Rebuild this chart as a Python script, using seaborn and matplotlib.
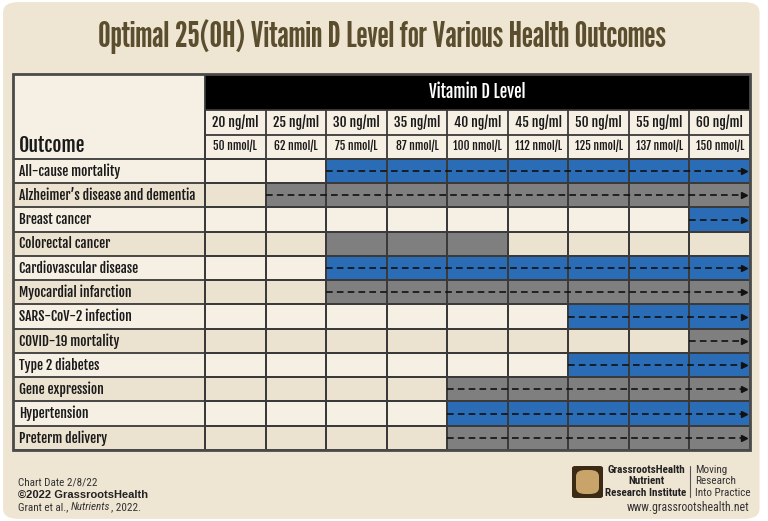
import numpy as np
import pandas as pd
import matplotlib
matplotlib.use("Agg")
import matplotlib.pyplot as plt
from matplotlib.colors import ListedColormap
from matplotlib.patches import Rectangle, FancyBboxPatch
import seaborn as sns

# ---------------- data ----------------
levels_ng = ["20 ng/ml", "25 ng/ml", "30 ng/ml", "35 ng/ml", "40 ng/ml",
             "45 ng/ml", "50 ng/ml", "55 ng/ml", "60 ng/ml"]
levels_nmol = ["50 nmol/L", "62 nmol/L", "75 nmol/L", "87 nmol/L", "100 nmol/L",
               "112 nmol/L", "125 nmol/L", "137 nmol/L", "150 nmol/L"]
outcomes = ["All-cause mortality", "Alzheimer\u2019s disease and dementia", "Breast cancer",
            "Colorectal cancer", "Cardiovascular disease", "Myocardial infarction",
            "SARS-CoV-2 infection", "COVID-19 mortality", "Type 2 diabetes",
            "Gene expression", "Hypertension", "Preterm delivery"]
band_start = [2, 1, 8, 2, 2, 2, 6, 8, 6, 4, 4, 4]   # first optimal level column
band_end = [9, 9, 9, 5, 9, 9, 9, 9, 9, 9, 9, 9]     # exclusive end column
band_kind = ["blue", "gray", "blue", "gray", "blue", "gray",
             "blue", "gray", "blue", "gray", "blue", "gray"]
band_arrow = [True, True, True, False, True, True, True, True, True, True, True, True]

# ---------------- style ----------------
BG = "#efe5d3"
LIGHT = "#f6f0e4"
DARK = "#ece2d0"
BLUE = "#2a6db6"
GRAY = "#7f7f7f"
GRID = "#3a3a3a"
TITLE_C = "#5a4e2e"

sns.set_theme(style="white")
plt.rcParams["font.family"] = ["Fjalla One", "Oswald", "DejaVu Sans"]
BODY = dict(family=["Fjalla One", "Oswald", "DejaVu Sans"])
TITLEF = dict(family=["League Gothic", "Oswald", "DejaVu Sans"])
NARROW = dict(family=["Roboto Condensed", "DejaVu Sans"])

fig = plt.figure(figsize=(7.68, 5.21), dpi=100)
fig.patch.set_facecolor("white")
bgpatch = FancyBboxPatch((0.004, 0.004), 0.985, 0.992,
                         boxstyle="round,pad=0,rounding_size=0.02",
                         transform=fig.transFigure, facecolor=BG, edgecolor="none", zorder=-10)
fig.patches.append(bgpatch)

W, H = 768, 521
ax = fig.add_axes([13 / W, 1 - 450 / H, (750 - 13) / W, (450 - 74) / H])

# matrix of cell categories: 0 light, 1 dark, 2 blue, 3 gray
n_rows, n_cols = len(outcomes), len(levels_ng)
mat = np.zeros((n_rows, n_cols))
for i in range(n_rows):
    for j in range(n_cols):
        if band_start[i] <= j < band_end[i]:
            mat[i, j] = 2 if band_kind[i] == "blue" else 3
        else:
            mat[i, j] = i % 2
df = pd.DataFrame(mat, index=outcomes, columns=levels_ng)
cmap = ListedColormap([LIGHT, DARK, BLUE, GRAY])
sns.heatmap(df, ax=ax, cmap=cmap, vmin=-0.5, vmax=3.5, cbar=False,
            linewidths=1.3, linecolor=GRID, xticklabels=False, yticklabels=False)

LC = (205 - 13) / ((750 - 205) / 9)  # label column width in cell units
ax.set_xlim(-LC, n_cols)
ax.set_ylim(n_rows, -3.5)
for s in ax.spines.values():
    s.set_visible(False)
ax.set_xticks([]); ax.set_yticks([])

# label column backgrounds
for i in range(n_rows):
    ax.add_patch(Rectangle((-LC, i), LC, 1, facecolor=LIGHT if i % 2 == 0 else DARK,
                           edgecolor="none", zorder=0))
ax.add_patch(Rectangle((-LC, -3.5), LC, 3.5, facecolor=LIGHT, edgecolor="none", zorder=0))
# header
ax.add_patch(Rectangle((0, -3.5), n_cols, 1.5, facecolor="black", edgecolor="none", zorder=0))
ax.add_patch(Rectangle((0, -2), n_cols, 2, facecolor=LIGHT, edgecolor="none", zorder=0))

# grid lines
ax.hlines(range(0, n_rows + 1), -LC, 0, color=GRID, lw=1.3, zorder=3)
ax.hlines([-1, -2], 0, n_cols, color=GRID, lw=1.3, zorder=3)
ax.vlines(range(0, n_cols + 1), -2, 0, color=GRID, lw=1.3, zorder=3)
ax.vlines([0], -3.5, n_rows, color=GRID, lw=1.3, zorder=3)
ax.add_patch(Rectangle((-LC, -3.5), LC + n_cols, n_rows + 3.5, facecolor="none",
                       edgecolor="#4a4a4a", lw=2, zorder=4, clip_on=False))

# dashed arrows
for i in range(n_rows):
    if band_arrow[i]:
        y = i + 0.5
        ax.plot([band_start[i], band_end[i] - 0.1], [y, y], color="#111111", lw=1.2,
                ls=(0, (4, 2.5)), zorder=5)
        ax.plot([band_end[i] - 0.1], [y], marker=">", color="#111111", ms=5, zorder=5)

# text
for i, name in enumerate(outcomes):
    ax.text(-LC + 0.1, i + 0.5, name, ha="left", va="center", fontsize=9.7,
            color="#1a1a1a", **BODY)
for j in range(n_cols):
    ax.text(j + 0.5, -1.5, levels_ng[j], ha="center", va="center", fontsize=9.7,
            color="#1a1a1a", **BODY)
    ax.text(j + 0.5, -0.5, levels_nmol[j], ha="center", va="center", fontsize=8.3,
            color="#1a1a1a", **BODY)
ax.text(n_cols / 2, -2.75, "Vitamin D Level", ha="center", va="center", fontsize=12,
        color="white", **BODY)
ax.text(-LC + 0.1, -0.55, "Outcome", ha="left", va="center", fontsize=14,
        color="#1a1a1a", **BODY)

fig.text(0.497, 1 - 37 / H, "Optimal 25(OH) Vitamin D Level for Various Health Outcomes",
         ha="center", va="center", fontsize=25.5, color=TITLE_C, **TITLEF)

# footer left
fig.text(18 / W, 1 - 483 / H, "Chart Date 2/8/22", ha="left", va="center", fontsize=8,
         color="#333333", **NARROW)
fig.text(18 / W, 1 - 495 / H, "\u00a92022 GrassrootsHealth", ha="left", va="center",
         fontsize=8, fontweight="bold", color="#222222", family=["Liberation Sans", "DejaVu Sans"])
renderer = fig.canvas.get_renderer()
x0 = 18
for t, st in [("Grant et al.,", "normal"), ("Nutrients", "italic"), (", 2022.", "normal")]:
    tx = fig.text(x0 / W, 1 - 507 / H, t, ha="left", va="center", fontsize=8,
                  style=st, color="#333333", **NARROW)
    bb = tx.get_window_extent(renderer=renderer)
    x0 = bb.x1 + (2.5 if t == "Grant et al.," else 0.3)

# footer right
fig.patches.append(FancyBboxPatch((572 / W, 1 - 498 / H), 31 / W, 32 / H,
                                  boxstyle="round,pad=0,rounding_size=0.004",
                                  transform=fig.transFigure,
                                  facecolor="#3b2a14", edgecolor="none"))
fig.patches.append(FancyBboxPatch((576 / W, 1 - 494 / H), 23 / W, 24 / H,
                                  boxstyle="round,pad=0,rounding_size=0.012",
                                  transform=fig.transFigure, facecolor="#c9a46a", edgecolor="none"))
for k, t in enumerate(["GrassrootsHealth", "Nutrient", "Research Institute"]):
    fig.text(646 / W, 1 - (470 + k * 11.5) / H, t, ha="center", va="center", fontsize=8,
             fontweight="bold", color="#222222", **NARROW)
fig.lines.append(plt.Line2D([690 / W, 690 / W], [1 - 466 / H, 1 - 497 / H],
                            transform=fig.transFigure, color="#555555", lw=0.8))
for k, t in enumerate(["Moving", "Research", "Into Practice"]):
    fig.text(695 / W, 1 - (470 + k * 11.5) / H, t, ha="left", va="center", fontsize=8,
             color="#333333", **NARROW)
fig.text(749 / W, 1 - 508 / H, "www.grassrootshealth.net", ha="right", va="center",
         fontsize=8.5, color="#333333", **NARROW)

fig.savefig("out.png", dpi=100, facecolor=fig.get_facecolor())
